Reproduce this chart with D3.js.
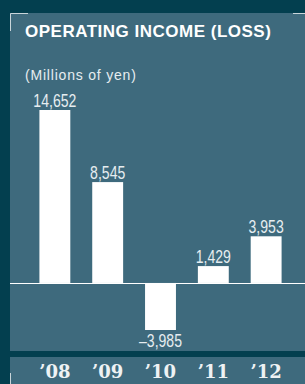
<!DOCTYPE html>
<html>
<head>
<meta charset="utf-8">
<script src="https://cdn.jsdelivr.net/npm/d3@7"></script>
<style>
  html, body { margin: 0; padding: 0; background: #033f4f; }
  svg { display: block; }
</style>
</head>
<body>
<div id="chart"></div>
<script>
// Data
const years = ["’08", "’09", "’10", "’11", "’12"];
const values = [14652, 8545, -3985, 1429, 3953];
const valueLabels = ["14,652", "8,545", "–3,985", "1,429", "3,953"];

const width = 305;
const height = 384;

const svg = d3.select('#chart').append('svg')
    .attr('width', width)
    .attr('height', height);

// Background and panels
svg.append('rect').attr('width', width).attr('height', height).attr('fill', '#033f4f');
svg.append('rect').attr('x', 10).attr('y', 13).attr('width', width - 10).attr('height', 338).attr('fill', '#3e6a7d');
svg.append('rect').attr('x', 10).attr('y', 357).attr('width', width - 10).attr('height', height - 357).attr('fill', '#3e6a7d');

// Corner marks
const mark = '#c9d5da';
svg.append('path').attr('d', 'M10.5,31V13.5H28').attr('stroke', mark).attr('fill', 'none');
svg.append('path').attr('d', 'M293,13.5H305').attr('stroke', mark).attr('fill', 'none');
svg.append('path').attr('d', 'M10.5,373V384').attr('stroke', mark).attr('fill', 'none');

// Titles
svg.append('text')
    .attr('x', 25).attr('y', 37)
    .attr('fill', '#ffffff')
    .style('font-family', 'Liberation Sans, Arial, sans-serif')
    .style('font-weight', 'bold')
    .style('font-size', '17px')
    .style('letter-spacing', '0.5px')
    .text('OPERATING INCOME (LOSS)');

svg.append('text')
    .attr('x', 25).attr('y', 80)
    .attr('fill', '#e6edf0')
    .style('font-family', 'Liberation Sans, Arial, sans-serif')
    .style('font-size', '14px')
    .style('letter-spacing', '0.8px')
    .text('(Millions of yen)');

// Scales
const x = d3.scaleBand().domain(years).range([13, 308]).paddingInner(0.415).paddingOuter(0.5);
const y = d3.scaleLinear().domain([-3985, 14652]).range([330, 110]);

// Bars
svg.selectAll('.bar')
    .data(values)
    .join('rect')
    .attr('class', 'bar')
    .attr('x', (d, i) => x(years[i]))
    .attr('width', x.bandwidth())
    .attr('y', d => d >= 0 ? y(d) : y(0))
    .attr('height', d => Math.abs(y(d) - y(0)))
    .attr('fill', '#ffffff');

// Zero line
svg.append('line')
    .attr('x1', 10).attr('x2', width)
    .attr('y1', Math.round(y(0)) + 0.5).attr('y2', Math.round(y(0)) + 0.5)
    .attr('stroke', '#ffffff').attr('stroke-width', 1);

// Value labels (condensed by squeezing horizontally)
svg.selectAll('.val')
    .data(values)
    .join('text')
    .attr('class', 'val')
    .attr('transform', (d, i) => {
        const cx = x(years[i]) + x.bandwidth() / 2;
        const cy = d >= 0 ? y(d) - 3 : y(d) + 17;
        return `translate(${cx},${cy}) scale(0.74,1)`;
    })
    .attr('text-anchor', 'middle')
    .attr('fill', '#e6edf0')
    .style('font-family', 'Liberation Sans, Arial, sans-serif')
    .style('font-size', '19px')
    .text((d, i) => valueLabels[i]);

// Year labels
svg.selectAll('.year')
    .data(years)
    .join('text')
    .attr('class', 'year')
    .attr('x', d => x(d) + x.bandwidth() / 2)
    .attr('y', 378)
    .attr('text-anchor', 'middle')
    .attr('fill', '#eef2f4')
    .style('font-family', 'DejaVu Serif, serif')
    .style('font-weight', 'bold')
    .style('font-size', '18px')
    .text(d => d);
</script>
</body>
</html>
